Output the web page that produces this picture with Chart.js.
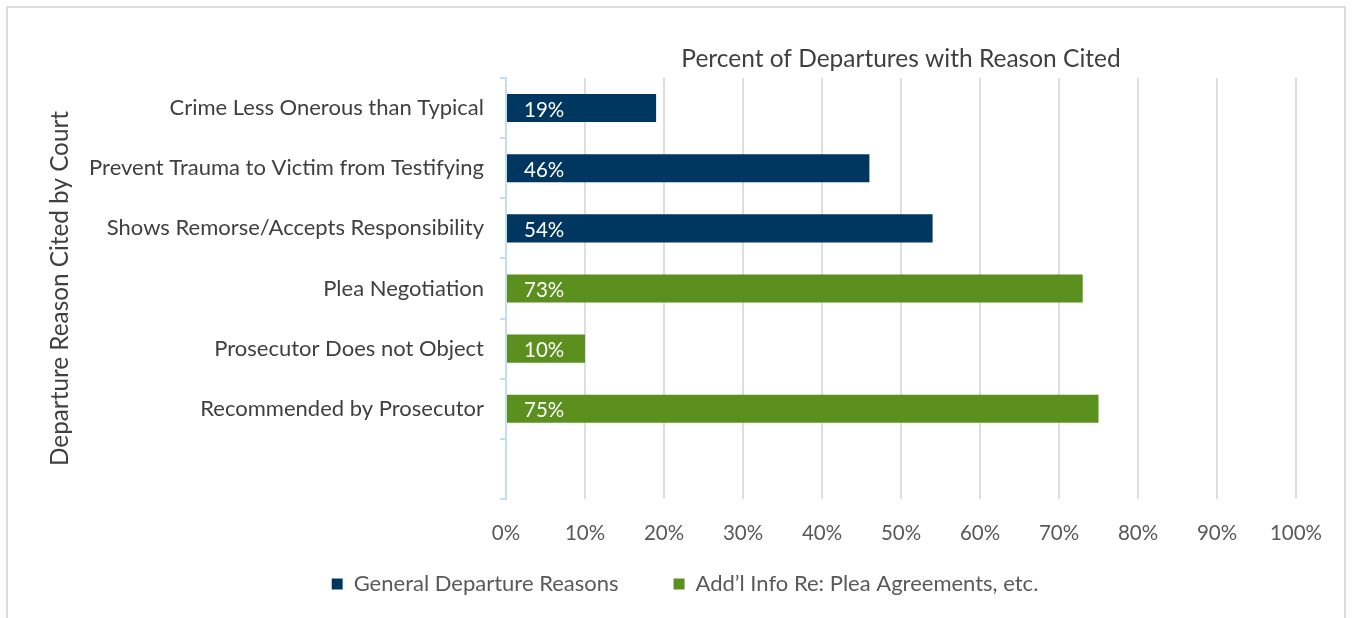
<!DOCTYPE html>
<html>
<head>
<meta charset="utf-8">
<script src="https://cdn.jsdelivr.net/npm/chart.js@4.4.1/dist/chart.umd.min.js"></script>
<style>
  html, body { margin: 0; padding: 0; background: #ffffff; }
  #frame { position: absolute; left: 6px; top: 6px; width: 1336px; height: 700px; border: 2px solid #dcdcdc; }
  #wrap { position: absolute; left: 0; top: 0; width: 1354px; height: 618px; }
</style>
</head>
<body>
<div id="frame"></div>
<div id="wrap"><canvas id="c" width="1354" height="618"></canvas></div>
<script>
const categories = [
  "Crime Less Onerous than Typical",
  "Prevent Trauma to Victim from Testifying",
  "Shows Remorse/Accepts Responsibility",
  "Plea Negotiation",
  "Prosecutor Does not Object",
  "Recommended by Prosecutor",
  ""
];
const generalReasons = [19, 46, 54, null, null, null, null];
const pleaInfo = [null, null, null, 73, 10, 75, null];
const seriesNames = ["General Departure Reasons", "Add\u2019l Info Re: Plea Agreements, etc."];
const xTickStep = 10;
const chartTitle = "Percent of Departures with Reason Cited";
const yTitle = "Departure Reason Cited by Court";

const FONT = "Lato";

// white value labels inside the bars
const barLabels = {
  id: "barLabels",
  afterDatasetsDraw(chart) {
    const ctx = chart.ctx;
    ctx.save();
    ctx.font = "20.5px " + FONT;
    ctx.fillStyle = "#ffffff";
    ctx.textAlign = "left";
    ctx.textBaseline = "middle";
    chart.data.datasets.forEach((ds, di) => {
      const meta = chart.getDatasetMeta(di);
      meta.data.forEach((el, i) => {
        const v = ds.data[i];
        if (v === null || v === undefined) return;
        ctx.fillText(v + "%", el.base + 17, el.y + 2);
      });
    });
    ctx.restore();
  }
};

// legend sits closer to the axis labels than Chart.js' symmetric padding allows
const legendLift = {
  id: "legendLift",
  afterLayout(chart) {
    const lg = chart.legend;
    if (!lg) return;
    lg.top -= 28;
    lg.height += 28;
  }
};

new Chart(document.getElementById("c"), {
  type: "bar",
  data: {
    labels: categories,
    datasets: [
      { label: seriesNames[0], data: generalReasons, backgroundColor: "#003761", borderWidth: 0 },
      { label: seriesNames[1], data: pleaInfo, backgroundColor: "#5b8f1e", borderWidth: 0 }
    ]
  },
  options: {
    indexAxis: "y",
    responsive: false,
    animation: false,
    devicePixelRatio: 1,
    categoryPercentage: 1,
    barPercentage: 0.467,
    layout: { padding: { left: 74, right: 58, top: 0, bottom: 0 } },
    scales: {
      x: {
        stacked: true,
        min: 0,
        max: 100,
        afterFit(scale) { scale.height = 47; },
        ticks: {
          stepSize: xTickStep,
          callback: v => v + "%",
          font: { family: FONT, size: 20.5 },
          color: "#595959",
          padding: 22,
          maxRotation: 0,
          autoSkip: false
        },
        grid: {
          drawTicks: false,
          lineWidth: 2,
          color: ctx => (ctx.tick && ctx.tick.value === 0) ? "rgba(0,0,0,0)" : "#dedede"
        },
        border: { display: false }
      },
      y: {
        stacked: true,
        afterFit(scale) { scale.width = 432; },
        ticks: {
          font: { family: FONT, size: 22 },
          color: "#404040",
          padding: 16
        },
        grid: {
          drawOnChartArea: false,
          drawTicks: true,
          tickLength: 6,
          lineWidth: 2,
          color: "#c3ddf2"
        },
        border: { display: true, color: "#c3ddf2", width: 2 },
        title: {
          display: true,
          text: yTitle,
          font: { family: FONT, size: 24.3 },
          color: "#404040",
          padding: { top: -28.6, bottom: 0 }
        }
      }
    },
    plugins: {
      title: {
        display: true,
        text: chartTitle,
        fullSize: false,
        font: { family: FONT, size: 24.5, weight: "normal" },
        color: "#404040",
        padding: { top: 44, bottom: 4.6 }
      },
      legend: {
        position: "bottom",
        maxHeight: 72,
        labels: {
          boxWidth: 11,
          boxHeight: 11,
          padding: 55,
          font: { family: FONT, size: 22 },
          color: "#595959"
        }
      },
      tooltip: { enabled: false }
    }
  },
  plugins: [barLabels, legendLift]
});
</script>
</body>
</html>
